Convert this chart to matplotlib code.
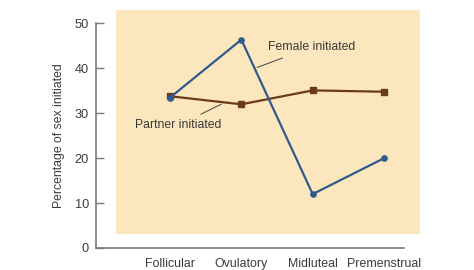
import matplotlib
matplotlib.use("Agg")
import matplotlib.pyplot as plt
from matplotlib.patches import Rectangle

plt.rcParams['font.family'] = ['Liberation Sans', 'DejaVu Sans']

phases = ["Follicular", "Ovulatory", "Midluteal", "Premenstrual"]
female_initiated = [33.5, 46.4, 12.0, 20.0]
partner_initiated = [33.8, 32.0, 35.1, 34.8]
y_ticks = [0, 10, 20, 30, 40, 50]

blue = "#2f5b8e"
brown = "#6a3a1c"
axis_gray = "#7a7a7a"
text_color = "#3a3a3a"
panel = "#fce6bd"

fig = plt.figure(figsize=(4.74, 2.70), dpi=100)
ax = fig.add_axes([0.2025, 0.0815, 0.6498, 0.8315])
ax.set_facecolor("none")

x = list(range(len(phases)))
ax.set_xlim(-1.038, 3.28)
ax.set_ylim(0, 50)

# shaded panel behind the data
ax.add_patch(Rectangle((-0.757, 3.1), 4.263, 50.0, facecolor=panel,
                       edgecolor="none", clip_on=False, zorder=0))

ax.plot(x, partner_initiated, color=brown, lw=1.6, marker="s", ms=4.2,
        zorder=3, clip_on=False)
ax.plot(x, female_initiated, color=blue, lw=1.6, marker="o", ms=3.8,
        zorder=4, clip_on=False)

ax.annotate("Female initiated", xy=(1.22, 40.2), xytext=(1.98, 44.7),
            ha="center", va="center", fontsize=8.8, color=text_color,
            arrowprops=dict(arrowstyle="-", color="#555555", lw=0.8,
                            shrinkA=4, shrinkB=0), zorder=5)
ax.annotate("Partner initiated", xy=(0.715, 32.0), xytext=(0.11, 27.3),
            ha="center", va="center", fontsize=8.8, color=text_color,
            arrowprops=dict(arrowstyle="-", color="#555555", lw=0.8,
                            shrinkA=4, shrinkB=0), zorder=5)

for s in ["top", "right"]:
    ax.spines[s].set_visible(False)
for s in ["left", "bottom"]:
    ax.spines[s].set_color(axis_gray)
    ax.spines[s].set_linewidth(1.2)

ax.set_yticks(y_ticks)
ax.set_yticklabels([str(v) for v in y_ticks])
ax.tick_params(axis="y", direction="in", length=6, width=1.0,
               color=axis_gray, labelsize=9.2, labelcolor=text_color, pad=5)
ax.set_xticks(x)
ax.set_xticklabels(phases)
ax.tick_params(axis="x", length=0, labelsize=8.9, labelcolor=text_color, pad=7)

ax.set_ylabel("Percentage of sex initiated", fontsize=8.8, color=text_color,
              labelpad=7)

fig.savefig("out.png", dpi=100)
